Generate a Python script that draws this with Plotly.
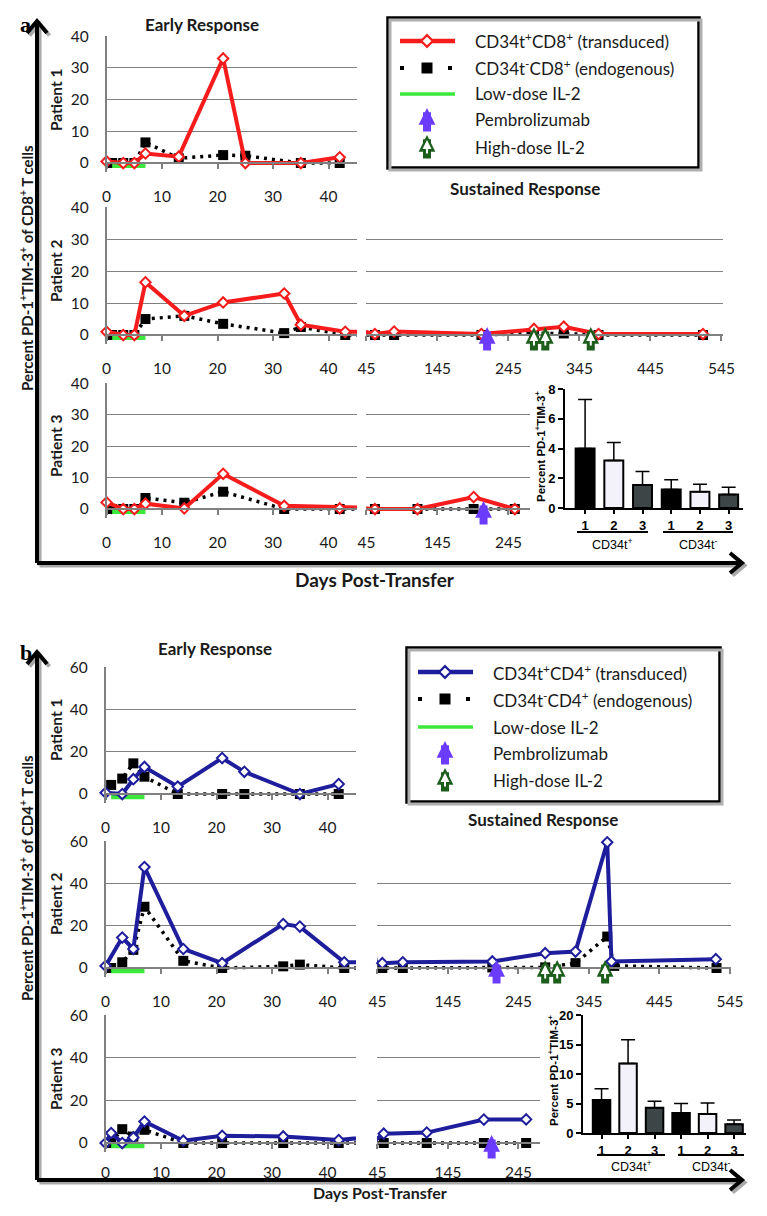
import plotly.graph_objects as go

# figure size, and the page box (left, top, width, height) that the paper ends up in
W, H = 751, 1200
BOX_X, BOX_Y, BOX_W, BOX_H = 17, 17, 730, 1183

# ---------------- data ----------------
# panel a : PD-1+TIM-3+ of CD8+ T cells
a1_t_days = [0, 3, 5, 7, 13, 21, 25, 35, 42]
a1_t_vals = [0.5, 0, 0, 3, 2, 33, 0, 0, 1.8]
a1_e_days = [1, 3, 5, 7, 13, 21, 25, 35, 42]
a1_e_vals = [0, 0, 0, 6.5, 1.5, 2.5, 2.3, 0, 0]

a2_t_days = [0, 3, 5, 7, 14, 21, 32, 35, 43, 57, 84, 207, 281, 323, 372, 519]
a2_t_vals = [1, 0, 0, 16.5, 6, 10.2, 13, 3.2, 1, 0.3, 1.1, 0.3, 1.9, 2.6, 0.3, 0.3]
a2_e_days = [1, 3, 5, 7, 14, 21, 32, 35, 43, 57, 84, 207, 281, 323, 372, 519]
a2_e_vals = [0, 0, 0, 5, 6, 3.5, 0.6, 2.5, 0, 0, 0, 0, 0.5, 0.5, 0, 0]

a3_t_days = [0, 3, 5, 7, 14, 21, 32, 42, 57, 117, 196, 254]
a3_t_vals = [2.1, 0, 0, 1.7, 0.2, 11.2, 1, 0.2, 0, 0, 3.8, 0]
a3_e_days = [1, 3, 5, 7, 14, 21, 32, 42, 57, 117, 196, 254]
a3_e_vals = [0, 0, 0, 3.5, 2, 5.5, 0, 0, 0, 0, 0, 0]

a2_pembro = [215]
a2_hd_il2 = [281, 297, 361]
a3_pembro = [210]

# panel b : PD-1+TIM-3+ of CD4+ T cells
b1_t_days = [0, 3, 5, 7, 13, 21, 25, 35, 42]
b1_t_vals = [0.6, 0, 7, 12.8, 3.5, 17, 10.5, 0, 4.7]
b1_e_days = [1, 3, 5, 7, 13, 21, 25, 35, 42]
b1_e_vals = [4.3, 7.3, 14.5, 8.2, 0, 0, 0, 0, 0]

b2_t_days = [0, 3, 5, 7, 14, 21, 32, 35, 43, 52, 81, 208, 283, 326, 371, 377, 525]
b2_t_vals = [1, 14.4, 9, 47.8, 9, 2.3, 20.8, 19.6, 2.7, 2.3, 2.7, 3.1, 7, 7.8, 59.5, 3.1, 4.2]
b2_e_days = [1, 3, 5, 7, 14, 21, 32, 35, 43, 52, 81, 208, 283, 326, 371, 381, 526]
b2_e_vals = [0, 2.7, 8.6, 29, 3.4, 0, 0.8, 1.6, 0, 0, 0, 0.3, 0.3, 2.3, 14.9, 1, 0]

b3_t_days = [0, 1, 3, 5, 7, 14, 21, 32, 42, 54, 115, 196, 256]
b3_t_vals = [0, 4.7, 0, 2.6, 10.1, 1.1, 3.4, 3.1, 1.4, 4.4, 4.9, 11, 11.1]
b3_e_days = [1, 3, 5, 7, 14, 21, 32, 42, 54, 115, 196, 256]
b3_e_vals = [0, 6.5, 3, 6.2, 0, 0, 0, 0, 0, 0, 0, 0]

b2_pembro = [214]
b2_hd_il2 = [283, 300, 368]
b3_pembro = [207]

low_dose_days = [1, 7]

# inset bars (mean and upper error)
bar_groups = ["CD34t+", "CD34t+", "CD34t+", "CD34t-", "CD34t-", "CD34t-"]
bar_patients = ["1", "2", "3", "1", "2", "3"]
a_bar_mean = [4.0, 3.2, 1.55, 1.25, 1.1, 0.9]
a_bar_err = [3.3, 1.2, 0.9, 0.65, 0.5, 0.5]
b_bar_mean = [5.6, 11.8, 4.3, 3.4, 3.2, 1.5]
b_bar_err = [1.9, 4.0, 1.1, 1.6, 1.9, 0.7]

early_ticks = [0, 10, 20, 30, 40]
sus_ticks = [45, 145, 245, 345, 445, 545]
sus3_ticks = [45, 145, 245]

# ---------------- style ----------------
RED = "#f61c1c"
NAVY = "#1e1e9c"
GREEN = "#3be83b"
PURPLE = "#6b3cff"
DKGREEN = "#1d5e1d"
GRID = "#808080"
TXT = "#1a1a1a"
FONT = "Lato"
ARIAL = "Liberation Sans"
EXTRA = 9

fig = go.Figure()
lay = dict(width=W, height=H, margin=dict(l=0, r=0, t=0, b=0),
           paper_bgcolor="white", plot_bgcolor="white", showlegend=False)
annos, shapes = [], []
count = [0]


def fx(px):
    return (px - BOX_X) / BOX_W


def fy(py):
    return 1 - (py - BOX_Y) / BOX_H


def dom(a, b):
    return [max(0.0, min(1.0, a)), max(0.0, min(1.0, b))]


def add_axes(xa, ya):
    count[0] += 1
    s = "" if count[0] == 1 else str(count[0])
    xa.setdefault("anchor", "y" + s)
    ya.setdefault("anchor", "x" + s)
    lay["xaxis" + s] = xa
    lay["yaxis" + s] = ya
    return "x" + s, "y" + s


def line_axes(xpx, px0, d0, scale, zero_py, top_py, ymax, ystep, xticks, ylabels, standoff):
    upp = ymax / (zero_py - top_py)
    xr = [d0 + (xpx[0] - px0) / scale, d0 + (xpx[1] - px0) / scale]
    xa = dict(domain=dom(fx(xpx[0]), fx(xpx[1])), range=xr, tickvals=xticks,
              showgrid=False, zeroline=False, showline=True, linecolor=GRID, linewidth=1.5,
              ticks="outside", ticklen=5, tickwidth=1.5, tickcolor=GRID,
              tickfont=dict(family=FONT, size=15.5, color=TXT), ticklabelstandoff=standoff,
              anchor="free", position=fy(zero_py))
    ya = dict(domain=dom(fy(zero_py + EXTRA), fy(top_py)), range=[-EXTRA * upp, ymax * 1.002],
              tick0=0, dtick=ystep, showgrid=True, gridcolor=GRID, gridwidth=1.3,
              zeroline=False, showline=ylabels, linecolor=GRID, linewidth=1.5,
              showticklabels=ylabels, ticks="",
              tickfont=dict(family=FONT, size=15.5, color=TXT), ticklabelstandoff=13)
    return add_axes(xa, ya)


def series(days, vals, xa, ya, kind, color=None):
    if kind == "endo":
        line = dict(color="black", width=3.5, dash="3px,5px")
        marker = dict(symbol="square", size=10, color="black")
    else:
        line = dict(color=color, width=4)
        marker = dict(symbol="diamond", size=8, color="white", line=dict(color=color, width=2))
    fig.add_trace(go.Scatter(x=days, y=vals, mode="lines", line=line,
                             xaxis=xa, yaxis=ya, hoverinfo="skip"))
    fig.add_trace(go.Scatter(x=days, y=vals, mode="markers", marker=marker,
                             cliponaxis=False, xaxis=xa, yaxis=ya))


def low_dose(xa, ya, level):
    fig.add_trace(go.Scatter(x=low_dose_days, y=[level] * len(low_dose_days), mode="lines",
                             line=dict(color=GREEN, width=4.5), xaxis=xa, yaxis=ya,
                             hoverinfo="skip"))


def arrow(day, y, xa, ya, color, inner=False, shift=8):
    annos.append(dict(x=day, y=y, xref=xa, yref=ya, text="", showarrow=True, ax=0, ay=25,
                      yshift=shift, arrowhead=2, arrowsize=0.42, arrowwidth=8,
                      arrowcolor=color))
    if inner:
        annos.append(dict(x=day, y=y, xref=xa, yref=ya, text="", showarrow=True, ax=0, ay=15,
                          yshift=shift - 5, arrowhead=2, arrowsize=0.9, arrowwidth=2,
                          arrowcolor="white"))


def text(x, y, s, size=15, bold=True, angle=0, family=FONT, anchor="center", color=TXT):
    annos.append(dict(x=fx(x), y=fy(y), xref="paper", yref="paper", text=s, showarrow=False,
                      textangle=angle, xanchor=anchor, yanchor="middle",
                      font=dict(family=family, size=size, color=color,
                                weight="bold" if bold else "normal")))


def patient_row(early_x, sus_x, zero_py, top_py, ymax, ystep, t_days, t_vals, e_days, e_vals,
                color, sus_ticks_, green_level, standoff=15):
    axes = [line_axes(early_x, early_x[0], 0, 5.55, zero_py, top_py, ymax, ystep,
                      early_ticks, True, standoff)]
    if sus_x is not None:
        axes.append(line_axes(sus_x, sus_x[0] + 0.4, 45, sus_x[2], zero_py, top_py, ymax, ystep,
                              sus_ticks_, False, standoff))
    for i, (xa, ya) in enumerate(axes):
        series(e_days, e_vals, xa, ya, "endo")
        if i == 0:
            low_dose(xa, ya, green_level)
        series(t_days, t_vals, xa, ya, "trans", color)
    return axes


def legend(box, xs, rows, labels, color):
    x0, y0, x1, y1 = box
    xa, ya = add_axes(dict(domain=dom(fx(x0), fx(x1)), range=[0, x1 - x0], visible=False),
                      dict(domain=dom(fy(y1), fy(y0)), range=[y1 - y0, 0], visible=False))
    shapes.append(dict(type="rect", xref="paper", yref="paper", x0=fx(x0 + 2), x1=fx(x1 + 2),
                       y0=fy(y1 + 2), y1=fy(y0 + 2), line=dict(color="#b0b0b0", width=3)))
    shapes.append(dict(type="rect", xref="paper", yref="paper", x0=fx(x0), x1=fx(x1),
                       y0=fy(y1), y1=fy(y0), line=dict(color="black", width=3.5),
                       fillcolor="white", layer="below"))
    r = [ry - y0 for ry in rows]
    fig.add_trace(go.Scatter(x=[xs - 27, xs + 28], y=[r[0], r[0]], mode="lines",
                             line=dict(color=color, width=4.5), xaxis=xa, yaxis=ya))
    fig.add_trace(go.Scatter(x=[xs], y=[r[0]], mode="markers", xaxis=xa, yaxis=ya,
                             marker=dict(symbol="diamond", size=9, color="white",
                                         line=dict(color=color, width=2.2))))
    fig.add_trace(go.Scatter(x=[xs - 27, xs + 25], y=[r[1], r[1]], mode="lines",
                             line=dict(color="black", width=4, dash="4px,20px"),
                             xaxis=xa, yaxis=ya))
    fig.add_trace(go.Scatter(x=[xs], y=[r[1]], mode="markers", xaxis=xa, yaxis=ya,
                             marker=dict(symbol="square", size=11, color="black")))
    fig.add_trace(go.Scatter(x=[xs - 27, xs + 28], y=[r[2], r[2]], mode="lines",
                             line=dict(color=GREEN, width=3.5), xaxis=xa, yaxis=ya))
    arrow(xs, r[3] - 12, xa, ya, PURPLE, shift=0)
    arrow(xs, r[4] - 12, xa, ya, DKGREEN, inner=True, shift=0)
    for ry, lab in zip(r, labels):
        annos.append(dict(x=xs + 46, y=ry, xref=xa, yref=ya, text=lab, showarrow=False,
                          xanchor="left", yanchor="middle",
                          font=dict(family=FONT, size=17, color=TXT)))


def bars(xpx, zero_py, top_py, ymax, ystep, means, errs, xr):
    cats = [g + " " + p for g, p in zip(bar_groups, bar_patients)]
    xa, ya = add_axes(
        dict(domain=dom(fx(xpx[0]), fx(xpx[1])), type="category", range=xr,
             tickvals=cats, ticktext=bar_patients, showline=True, linecolor="black",
             linewidth=2, ticks="outside", ticklen=4, tickcolor="black", tickwidth=1.5,
             tickfont=dict(family=ARIAL, size=13, color="black", weight="bold"),
             showgrid=False, zeroline=False),
        dict(domain=dom(fy(zero_py), fy(top_py)), range=[0, ymax], tick0=0, dtick=ystep,
             showline=True, linecolor="black", linewidth=2, ticks="outside", ticklen=5,
             tickcolor="black", tickwidth=1.5, showgrid=False, zeroline=False,
             tickfont=dict(family=ARIAL, size=13, color="black", weight="bold")))
    fig.add_trace(go.Bar(x=cats, y=means, width=0.66, xaxis=xa, yaxis=ya,
                         marker=dict(color=["black", "#f3f1fa", "#3d4547"] * 2,
                                     line=dict(color="black", width=2)),
                         error_y=dict(type="data", array=errs, arrayminus=[0] * len(errs),
                                      symmetric=False, color="black", thickness=1.5,
                                      width=7)))


def big_axes(top_py, corner_py, right_px, x_px=37):
    for dx, col in ((2.5, "#a8a8a8"), (0, "black")):
        shapes.append(dict(type="line", xref="paper", yref="paper", x0=fx(x_px + dx),
                           x1=fx(x_px + dx), y0=fy(corner_py + dx), y1=fy(top_py + 2 + dx),
                           line=dict(color=col, width=4)))
        shapes.append(dict(type="line", xref="paper", yref="paper", x0=fx(x_px + dx),
                           x1=fx(right_px - 2 + dx), y0=fy(corner_py + dx),
                           y1=fy(corner_py + dx), line=dict(color=col, width=4)))
        shapes.append(dict(type="path", xref="paper", yref="paper",
                           path="M %f %f L %f %f L %f %f" % (
                               fx(x_px - 10 + dx), fy(top_py + 12 + dx), fx(x_px + dx),
                               fy(top_py + dx), fx(x_px + 10 + dx), fy(top_py + 12 + dx)),
                           line=dict(color=col, width=4)))
        shapes.append(dict(type="path", xref="paper", yref="paper",
                           path="M %f %f L %f %f L %f %f" % (
                               fx(right_px - 12 + dx), fy(corner_py - 10 + dx),
                               fx(right_px + dx), fy(corner_py + dx),
                               fx(right_px - 12 + dx), fy(corner_py + 10 + dx)),
                           line=dict(color=col, width=4)))


# ---------------- panel a ----------------
big_axes(21, 563, 742)
A_EARLY = (106.6, 357)
A_SUS = (366, 723, 0.71)
A_SUS3 = (366, 530, 0.71)
patient_row(A_EARLY, None, 163, 36, 40, 10, a1_t_days, a1_t_vals, a1_e_days, a1_e_vals,
            RED, None, -0.85)
ax2 = patient_row(A_EARLY, A_SUS, 335, 207, 40, 10, a2_t_days, a2_t_vals, a2_e_days,
                  a2_e_vals, RED, sus_ticks, -0.85)
ax3 = patient_row(A_EARLY, A_SUS3, 509, 383, 40, 10, a3_t_days, a3_t_vals, a3_e_days,
                  a3_e_vals, RED, sus3_ticks, -0.85)
for d in a2_pembro:
    arrow(d, 0, ax2[1][0], ax2[1][1], PURPLE)
for d in a2_hd_il2:
    arrow(d, 0, ax2[1][0], ax2[1][1], DKGREEN, inner=True)
for d in a3_pembro:
    arrow(d, 0, ax3[1][0], ax3[1][1], PURPLE)
bars((565, 743), 508, 389, 8, 2, a_bar_mean, a_bar_err, [-0.7, 5.5])
legend((388, 18, 699, 168), 39, [41, 68, 94, 120, 147],
       ["CD34t<sup>+</sup>CD8<sup>+</sup> (transduced)",
        "CD34t<sup>-</sup>CD8<sup>+</sup> (endogenous)",
        "Low-dose IL-2", "Pembrolizumab", "High-dose IL-2"], RED)

text(18, 24, "a", 22, family="Liberation Serif", color="black", anchor="left")
text(202, 24, "Early Response", 17)
text(525, 188, "Sustained Response", 17)
for yy, lab in ((100, "Patient 1"), (271, "Patient 2"), (446, "Patient 3")):
    text(56, yy, lab, 15.5, angle=-90)
text(26, 268, "Percent PD-1<sup>+</sup>TIM-3<sup>+</sup> of CD8<sup>+</sup> T cells", 15,
     angle=-90)
text(375, 579, "Days Post-Transfer", 19)
text(540, 447, "Percent PD-1<sup>+</sup>TIM-3<sup>+</sup>", 11.5, family=ARIAL, angle=-90,
     color="black")
for x0, x1, lab in ((577, 648, "CD34t<sup>+</sup>"), (663, 733, "CD34t<sup>-</sup>")):
    shapes.append(dict(type="line", xref="paper", yref="paper", x0=fx(x0), x1=fx(x1),
                       y0=fy(532), y1=fy(532), line=dict(color="black", width=2)))
    text((x0 + x1) / 2, 544, lab, 12.5, bold=False, family=ARIAL, color="black")

# ---------------- panel b ----------------
big_axes(652, 1180, 742)
B_EARLY = (105.6, 356)
B_SUS = (377, 731, 0.705)
B_SUS3 = (377, 540, 0.705)
patient_row(B_EARLY, None, 794, 667, 60, 20, b1_t_days, b1_t_vals, b1_e_days, b1_e_vals,
            NAVY, None, -1.4)
bx2 = patient_row(B_EARLY, B_SUS, 968, 841, 60, 20, b2_t_days, b2_t_vals, b2_e_days,
                  b2_e_vals, NAVY, sus_ticks, -1.4)
bx3 = patient_row(B_EARLY, B_SUS3, 1143, 1015, 60, 20, b3_t_days, b3_t_vals, b3_e_days,
                  b3_e_vals, NAVY, sus3_ticks, -1.4, standoff=11)
for d in b2_pembro:
    arrow(d, 0, bx2[1][0], bx2[1][1], PURPLE)
for d in b2_hd_il2:
    arrow(d, 0, bx2[1][0], bx2[1][1], DKGREEN, inner=True)
for d in b3_pembro:
    arrow(d, 0, bx3[1][0], bx3[1][1], PURPLE)
bars((583, 746), 1133, 1015, 20, 5, b_bar_mean, b_bar_err, [-0.7, 5.45])
legend((407, 648, 720, 802), 38, [672, 699, 727, 753, 780],
       ["CD34t<sup>+</sup>CD4<sup>+</sup> (transduced)",
        "CD34t<sup>-</sup>CD4<sup>+</sup> (endogenous)",
        "Low-dose IL-2", "Pembrolizumab", "High-dose IL-2"], NAVY)

text(18, 652, "b", 22, family="Liberation Serif", color="black", anchor="left")
text(215, 648, "Early Response", 17)
text(543, 819, "Sustained Response", 17)
for yy, lab in ((730, "Patient 1"), (904, "Patient 2"), (1079, "Patient 3")):
    text(56, yy, lab, 15.5, angle=-90)
text(26, 878, "Percent PD-1<sup>+</sup>TIM-3<sup>+</sup> of CD4<sup>+</sup> T cells", 15,
     angle=-90)
text(380, 1192, "Days Post-Transfer", 16)
text(553, 1071, "Percent PD-1<sup>+</sup>TIM-3<sup>+</sup>", 11.5, family=ARIAL, angle=-90,
     color="black")
for x0, x1, lab in ((597, 665, "CD34t<sup>+</sup>"), (678, 744, "CD34t<sup>-</sup>")):
    shapes.append(dict(type="line", xref="paper", yref="paper", x0=fx(x0), x1=fx(x1),
                       y0=fy(1155), y1=fy(1155), line=dict(color="black", width=2)))
    text((x0 + x1) / 2, 1166, lab, 12.5, bold=False, family=ARIAL, color="black")

lay["annotations"] = annos
lay["shapes"] = shapes
fig.update_layout(**lay)
fig.write_html("out.html", config={"displayModeBar": False})
